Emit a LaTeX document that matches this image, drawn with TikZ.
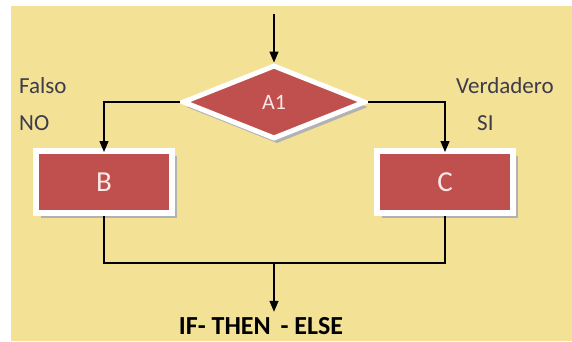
\documentclass[tikz,border=0pt]{standalone}
\usepackage{fontspec}
\setmainfont{Carlito}
\usetikzlibrary{shapes.geometric,arrows.meta,shadows}
\definecolor{bg}{RGB}{243,225,150}
\definecolor{boxred}{RGB}{192,80,77}
\definecolor{lblc}{RGB}{60,60,75}
\definecolor{txtw}{RGB}{250,232,232}
\newcommand{\boxfont}{\fontsize{29}{29}\selectfont}
\newcommand{\diafont}{\fontsize{22}{22}\selectfont}
\begin{document}
\begin{tikzpicture}[x=1pt,y=-1pt,
  redbox/.style={rectangle, fill=boxred, draw=white, line width=6pt,
    minimum width=136pt, minimum height=62pt, inner sep=0pt, text=txtw,
    drop shadow={shadow xshift=5pt, shadow yshift=-5pt, fill=black!30, opacity=1}},
  dia/.style={diamond, aspect=2.5, fill=boxred, draw=white, line width=5pt,
    minimum width=183pt, minimum height=74pt, inner sep=0pt, text=txtw,
    drop shadow={shadow xshift=3pt, shadow yshift=-5pt, fill=black!30, opacity=1}},
  lbl/.style={anchor=base west, inner sep=0pt, text=lblc, font=\fontsize{23}{23}\selectfont},
  ttl/.style={anchor=base, inner sep=0pt, text=black, font=\fontsize{26}{26}\selectfont\bfseries},
  conn/.style={line width=1.3pt, draw=black},
  arr/.style={conn, -{Triangle[width=9pt,length=11pt]}}
]
\useasboundingbox (0,0) rectangle (572,341);
\fill[white] (0,0) rectangle (572,341);
\fill[bg] (11,6) rectangle (572,341);

\node[dia] (A) at (274,102) {\diafont A1};
\node[redbox] (B) at (104,182) {\boxfont B};
\node[redbox] (C) at (445,182) {\boxfont C};

\coordinate (top) at (274,14);
\coordinate (j) at (274,263);
\node[ttl] (T) at (261,334) {IF- THEN\hspace{0.15em} - ELSE};

\node[lbl] (f) at (19,93) {Falso};
\node[lbl] (n) at (19,130) {NO};
\node[lbl] (v) at (456,93) {Verdadero};
\node[lbl] (s) at (477,130) {SI};

\draw[arr] (top) -- (A.north);
\draw[arr, shorten >=-4pt] (A.west) -| (B.north);
\draw[arr, shorten >=-4pt] (A.east) -| (C.north);
\draw[conn] (B.south) |- (j) -| (C.south);
\draw[arr, shorten >=5pt] (j) -- (j |- T.north);
\end{tikzpicture}
\end{document}
